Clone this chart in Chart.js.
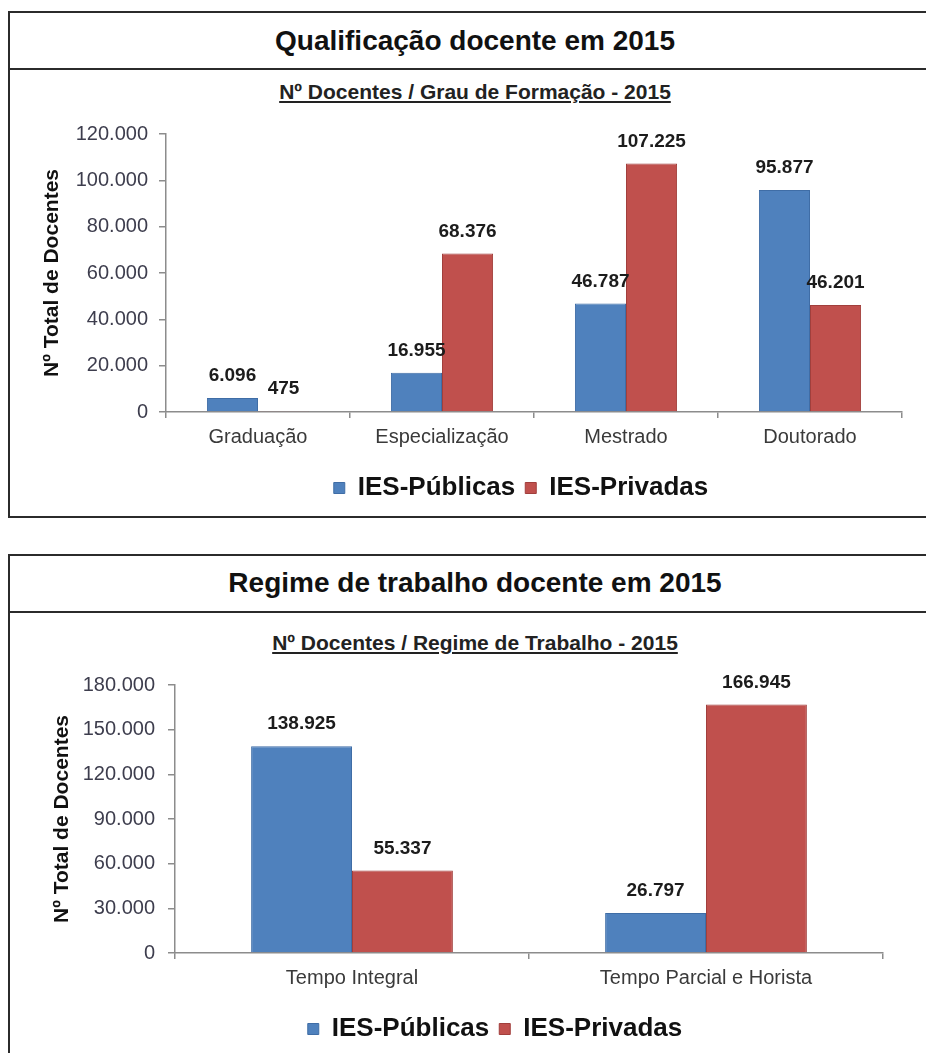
<!DOCTYPE html>
<html lang="pt-BR">
<head>
<meta charset="utf-8">
<title>Docentes 2015</title>
<script src="https://cdn.jsdelivr.net/npm/chart.js@4.4.1/dist/chart.umd.min.js"></script>
<style>
  html, body { margin: 0; padding: 0; background: #fff; overflow: hidden; width: 926px; height: 1053px; }
  body { position: relative; font-family: 'Liberation Sans', Arial, sans-serif; }
  .box { position: absolute; left: 8px; width: 930px; border: 2px solid #2b2b2b; box-sizing: border-box; }
  .divider { position: absolute; left: 8px; width: 930px; height: 0; border-top: 2px solid #2b2b2b; }
  .title { position: absolute; left: 8px; width: 934px; text-align: center; font-weight: bold; font-size: 28px; line-height: 32px; color: #111; white-space: nowrap; }
  .subtitle { position: absolute; left: 8px; width: 934px; text-align: center; font-weight: bold; font-size: 21px; line-height: 24px; color: #222; text-decoration: underline; white-space: nowrap; }
  canvas { position: absolute; }
</style>
</head>
<body>
  <div class="box" style="top:11px;height:507px;"></div>
  <div class="divider" style="top:68px;"></div>
  <div class="title" style="top:25px;">Qualificação docente em 2015</div>
  <div class="subtitle" style="top:80px;">Nº Docentes / Grau de Formação - 2015</div>
  <canvas id="graficoFormacao" width="1022" height="407" style="left:10px;top:106px;"></canvas>

  <div class="box" style="top:554px;height:560px;"></div>
  <div class="divider" style="top:611px;"></div>
  <div class="title" style="top:567px;">Regime de trabalho docente em 2015</div>
  <div class="subtitle" style="top:631px;">Nº Docentes / Regime de Trabalho - 2015</div>
  <canvas id="graficoRegime" width="1022" height="398" style="left:10px;top:655px;"></canvas>

<script>
// Grau de formação dos docentes
const categoriasFormacao = ['Graduação', 'Especialização', 'Mestrado', 'Doutorado'];
const publicasFormacao = [6096, 16955, 46787, 95877];
const privadasFormacao = [475, 68376, 107225, 46201];
const ticksFormacao = [0, 20000, 40000, 60000, 80000, 100000, 120000];

// Regime de trabalho dos docentes
const categoriasRegime = ['Tempo Integral', 'Tempo Parcial e Horista'];
const publicasRegime = [138925, 26797];
const privadasRegime = [55337, 166945];
const ticksRegime = [0, 30000, 60000, 90000, 120000, 150000, 180000];

const series = ['IES-Públicas', 'IES-Privadas'];

const FONTE = "'Liberation Sans', Arial, sans-serif";
Chart.defaults.font.family = FONTE;

// número com separador de milhar em ponto
function milhar(n) {
  return String(n).replace(/\B(?=(\d{3})+(?!\d))/g, '.');
}

// valores escritos acima de cada barra
const rotulosBarras = {
  id: 'rotulosBarras',
  afterDatasetsDraw(chart) {
    const ctx = chart.ctx;
    ctx.save();
    ctx.font = 'bold 19px ' + FONTE;
    ctx.fillStyle = '#1c1c1c';
    ctx.textAlign = 'center';
    ctx.textBaseline = 'middle';
    chart.data.datasets.forEach((ds, i) => {
      chart.getDatasetMeta(i).data.forEach((bar, j) => {
        ctx.fillText(milhar(ds.data[j]), bar.x, bar.y - 22);
      });
    });
    ctx.restore();
  }
};

// recentraliza a legenda em torno de um x dado
const legendaCentro = {
  id: 'legendaCentro',
  afterLayout(chart, args, opts) {
    const lg = chart.legend;
    if (!lg || opts.centro == null) return;
    const d = opts.centro - (lg.left + lg.right) / 2;
    lg.left += d;
    lg.right += d;
  }
};

function criarGrafico(id, cfg) {
  const cores = [
    { fundo: '#4F81BD', borda: '#3F6DA6' },
    { fundo: '#C0504D', borda: '#A13F3C' }
  ];
  const dados = [cfg.publicas, cfg.privadas];
  return new Chart(document.getElementById(id), {
    type: 'bar',
    data: {
      labels: cfg.categorias,
      datasets: series.map((nome, i) => ({
        label: nome,
        data: dados[i],
        backgroundColor: cores[i].fundo,
        borderColor: cores[i].borda,
        borderWidth: 1,
        barPercentage: 1,
        categoryPercentage: cfg.categoria
      }))
    },
    options: {
      responsive: false,
      animation: false,
      devicePixelRatio: 1,
      layout: { padding: cfg.padding },
      scales: {
        x: {
          grid: { display: true, drawOnChartArea: false, drawTicks: true, tickLength: 6, color: '#8c8c8c', lineWidth: 1.5 },
          border: { display: true, color: '#8c8c8c', width: 1.5 },
          ticks: { color: '#3a3a3a', font: { size: 20 }, padding: 7 },
          afterFit(scale) { scale.height = 53; }
        },
        y: {
          min: cfg.ticks[0],
          max: cfg.ticks[cfg.ticks.length - 1],
          afterBuildTicks(scale) { scale.ticks = cfg.ticks.map(v => ({ value: v })); },
          grid: { display: true, drawOnChartArea: false, drawTicks: true, tickLength: 7, color: '#8c8c8c', lineWidth: 1.5 },
          border: { display: true, color: '#8c8c8c', width: 1.5 },
          ticks: { color: '#3d3d4d', font: { size: 20 }, padding: cfg.tickPad, callback: v => milhar(v) },
          title: {
            display: true,
            text: 'Nº Total de Docentes',
            color: '#111',
            font: { size: 21, weight: 'bold' },
            padding: { top: cfg.tituloPad, bottom: 0 }
          },
          afterFit(scale) { scale.width = cfg.larguraY; }
        }
      },
      plugins: {
        legend: {
          position: 'bottom',
          labels: { boxWidth: 11, boxHeight: 11, color: '#111', font: { size: 26, weight: 'bold' }, padding: 10 }
        },
        legendaCentro: { centro: cfg.centroLegenda },
        tooltip: { enabled: false }
      }
    },
    plugins: [rotulosBarras, legendaCentro]
  });
}

criarGrafico('graficoFormacao', {
  categorias: categoriasFormacao,
  publicas: publicasFormacao,
  privadas: privadasFormacao,
  ticks: ticksFormacao,
  categoria: 0.555,
  padding: { top: 28, left: 0, right: 130, bottom: 2 },
  larguraY: 156,
  tickPad: 11,
  tituloPad: 30,
  centroLegenda: 511
});

criarGrafico('graficoRegime', {
  categorias: categoriasRegime,
  publicas: publicasRegime,
  privadas: privadasRegime,
  ticks: ticksRegime,
  categoria: 0.57,
  padding: { top: 30, left: 0, right: 149, bottom: 1 },
  larguraY: 165,
  tickPad: 13,
  tituloPad: 40,
  centroLegenda: 485
});
</script>
</body>
</html>
